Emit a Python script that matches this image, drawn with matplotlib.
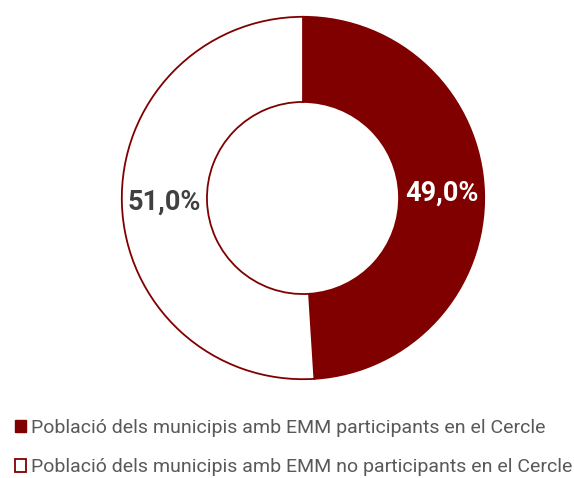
import matplotlib.pyplot as plt
from matplotlib.patches import Patch
import numpy as np

labels = ['Població dels municipis amb EMM participants en el Cercle',
          'Població dels municipis amb EMM no participants en el Cercle']
values = [49.0, 51.0]
dark_red = '#800000'

W, H = 574, 478
fig = plt.figure(figsize=(W / 100, H / 100), dpi=100)
cx, cy, r = 303, 198, 183
ax = fig.add_axes([(cx - r) / W, (H - cy - r) / H, 2 * r / W, 2 * r / H])

wedges, _ = ax.pie(values, startangle=90, counterclock=False, radius=1,
                   colors=[dark_red, 'white'],
                   wedgeprops=dict(width=1 - 97 / 183, edgecolor=dark_red, linewidth=1.3))
ax.set_xlim(-1.01, 1.01)
ax.set_ylim(-1.01, 1.01)
ax.set_aspect('equal')
ax.axis('off')

txt_colors = ['white', '#404040']
for w, v, c in zip(wedges, values, txt_colors):
    mid = np.deg2rad((w.theta1 + w.theta2) / 2)
    rr = 0.765
    ax.text(rr * np.cos(mid), rr * np.sin(mid), f'{v:.1f}%'.replace('.', ','),
            ha='center', va='center', color=c, fontsize=19.5, fontweight='bold',
            family='Roboto')

handles = [Patch(facecolor=dark_red, edgecolor=dark_red),
           Patch(facecolor='white', edgecolor=dark_red, linewidth=1.3)]
leg = fig.legend(handles, labels, loc='upper left', bbox_to_anchor=(-0.005, 0.16),
                 frameon=False, prop={'family': 'Roboto', 'size': 14},
                 handlelength=0.6, handleheight=0.6, handletextpad=0.25,
                 labelspacing=1.1, labelcolor='#595959')

fig.savefig('out.png', dpi=100)
